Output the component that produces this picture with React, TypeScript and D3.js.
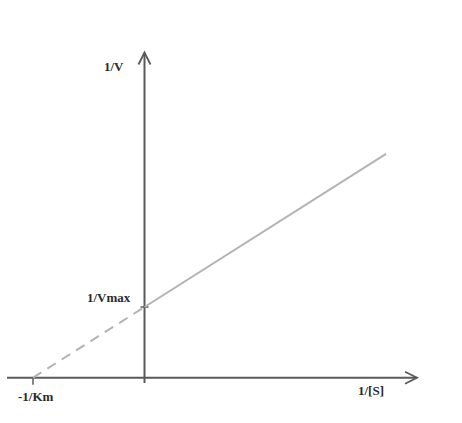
import React from 'react';
import * as d3 from 'd3';

// Lineweaver-Burk plot values (arbitrary units)
const negInvKm = -1; // x intercept
const invVmax = 1; // y intercept
const measuredX = [0, 2.166]; // solid part of the line (1/[S])
const extrapolatedX = [negInvKm, 0]; // dashed part
const xAxisRange = [-1.233, 2.444];
const yAxisRange = [-0.075, 4.6];
const axisLabels = ['1/V', '1/[S]'];
const interceptLabels = ['1/Vmax', '-1/Km'];

const width = 462, height = 423;

const slope = invVmax / -negInvKm;
const f = (x: number) => invVmax + slope * x;

const App = () => {
  const x = d3.scaleLinear().domain([-1, 0]).range([33, 144.5]);
  const y = d3.scaleLinear().domain([0, 1]).range([377.7, 307]);

  const line = d3.line<number>()
    .x(d => x(d))
    .y(d => y(f(d)));

  const x0 = x(0), y0 = y(0);
  const xEnd = x(xAxisRange[1]);
  const yTop = y(yAxisRange[1]);
  const axisColor = '#5a5a5a';
  const lineColor = '#b3b3b3';
  const font = { fontFamily: '"Liberation Serif", "Times New Roman", serif', fontWeight: 'bold', fontSize: 13, fill: '#2a2a2a' };

  return (
    <div style={{ position: 'absolute', left: 0, top: 0 }}>
      <svg width={width} height={height} style={{ display: 'block', background: '#fff' }}>
        {/* x axis */}
        <line x1={x(xAxisRange[0])} y1={y0} x2={xEnd} y2={y0} stroke={axisColor} strokeWidth={2} />
        <path d={`M${xEnd - 12},${y0 - 6} L${xEnd},${y0} L${xEnd - 12},${y0 + 6}`} fill="none" stroke={axisColor} strokeWidth={1.8} />
        {/* y axis */}
        <line x1={x0} y1={y(yAxisRange[0])} x2={x0} y2={yTop} stroke={axisColor} strokeWidth={2} />
        <path d={`M${x0 - 6},${yTop + 12} L${x0},${yTop} L${x0 + 6},${yTop + 12}`} fill="none" stroke={axisColor} strokeWidth={1.8} />
        {/* -1/Km tick */}
        <line x1={x(negInvKm)} y1={y0} x2={x(negInvKm)} y2={y0 + 7} stroke={axisColor} strokeWidth={1.5} />
        {/* 1/Vmax tick */}
        <line x1={x0 - 4} y1={y(invVmax)} x2={x0 + 4} y2={y(invVmax)} stroke={axisColor} strokeWidth={1.5} />

        <path d={line(extrapolatedX) ?? ''} fill="none" stroke={lineColor} strokeWidth={2} strokeDasharray="10,7" />
        <path d={line(measuredX) ?? ''} fill="none" stroke={lineColor} strokeWidth={2} />

        <text x={104} y={71} style={font}>{axisLabels[0]}</text>
        <text x={358} y={395} style={font}>{axisLabels[1]}</text>
        <text x={87} y={302} style={font}>{interceptLabels[0]}</text>
        <text x={18} y={401} style={font}>{interceptLabels[1]}</text>
      </svg>
    </div>
  );
};

export default App;
